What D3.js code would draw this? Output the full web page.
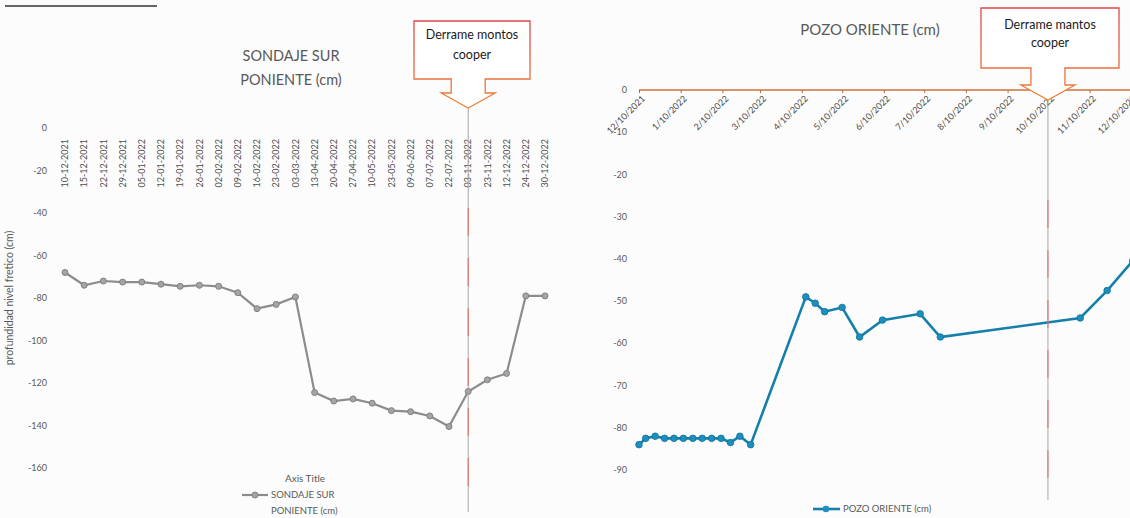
<!DOCTYPE html>
<meta charset="utf-8">
<title>Sondaje sur poniente / Pozo oriente</title>
<script src="https://d3js.org/d3.v7.min.js"></script>
<style>
body { margin: 0; background: #fcfcfc; }
text { font-family: Lato, "Open Sans", sans-serif; }
</style>
<div id="chart"></div>
<script>
// left chart data (categorical dates)
const leftDates = ["10-12-2021", "15-12-2021", "22-12-2021", "29-12-2021", "05-01-2022", "12-01-2022",
  "19-01-2022", "26-01-2022", "02-02-2022", "09-02-2022", "16-02-2022", "23-02-2022", "03-03-2022",
  "13-04-2022", "20-04-2022", "27-04-2022", "10-05-2022", "23-05-2022", "09-06-2022", "07-07-2022",
  "22-07-2022", "03-11-2022", "23-11-2022", "12-12-2022", "24-12-2022", "30-12-2022"];
const leftValues = [-68, -74, -72, -72.5, -72.5, -73.5, -74.5, -74, -74.5, -77.5, -85, -83, -79.5,
  -124.5, -128.5, -127.5, -129.5, -133, -133.5, -135.5, -140.5, -124, -118.5, -115.5, -79, -79];
const leftYTicks = [0, -20, -40, -60, -80, -100, -120, -140, -160];
const leftEvent = "03-11-2022";

// right chart data (date axis)
const rightDates = ["2021-12-10", "2021-12-15", "2021-12-22", "2021-12-29", "2022-01-05", "2022-01-12",
  "2022-01-19", "2022-01-26", "2022-02-02", "2022-02-09", "2022-02-16", "2022-02-23", "2022-03-03",
  "2022-04-13", "2022-04-20", "2022-04-27", "2022-05-10", "2022-05-23", "2022-06-09", "2022-07-07",
  "2022-07-22", "2022-11-03", "2022-11-23", "2022-12-12"];
const rightValues = [-84, -82.5, -82, -82.5, -82.5, -82.5, -82.5, -82.5, -82.5, -82.5, -83.5, -82, -84,
  -49, -50.5, -52.5, -51.5, -58.5, -54.5, -53, -58.5, -54, -47.5, -40.5];
const rightTickLabels = ["12/10/2021", "1/10/2022", "2/10/2022", "3/10/2022", "4/10/2022", "5/10/2022",
  "6/10/2022", "7/10/2022", "8/10/2022", "9/10/2022", "10/10/2022", "11/10/2022", "12/10/2022"];
const rightYTicks = [0, -10, -20, -30, -40, -50, -60, -70, -80, -90];
const rightEvent = "10/10/2022";

const W = 1130, H = 518;
const txt = "#595959";

const svg = d3.select("#chart").append("svg")
  .attr("width", W).attr("height", H);

// stray line at top-left of the scan
svg.append("line").attr("x1", 5).attr("x2", 157).attr("y1", 6).attr("y2", 6)
  .attr("stroke", "#333").attr("stroke-width", 1.5);

const grad = svg.append("defs").append("linearGradient")
  .attr("id", "calloutStroke").attr("x1", 0).attr("x2", 0).attr("y1", 0).attr("y2", 1);
grad.append("stop").attr("offset", "0%").attr("stop-color", "#e0464a");
grad.append("stop").attr("offset", "100%").attr("stop-color", "#ee8336");

// callout box with down arrow, tip at (tx, ty)
function callout(tx, ty, x0, x1, y0, y1, lines, ly) {
  const s = 17, wing = 27, stemY = ty - 15;
  const pts = [[x0, y0], [x1, y0], [x1, y1], [tx + s, y1], [tx + s, stemY], [tx + wing, stemY],
    [tx, ty], [tx - wing, stemY], [tx - s, stemY], [tx - s, y1], [x0, y1]];
  svg.append("path")
    .attr("d", d3.line()(pts) + "Z")
    .attr("fill", "#fff")
    .attr("stroke", "url(#calloutStroke)")
    .attr("stroke-width", 1.3);
  lines.forEach((l, i) => {
    svg.append("text")
      .attr("x", (x0 + x1) / 2).attr("y", ly[i])
      .attr("text-anchor", "middle")
      .attr("font-size", 12.5).attr("fill", "#1a1a1a")
      .text(l);
  });
}

function eventLine(x, y0, y1) {
  svg.append("line").attr("x1", x).attr("x2", x).attr("y1", y0).attr("y2", y1)
    .attr("stroke", "#a6a6a6").attr("stroke-width", 1);
  svg.append("line").attr("x1", x).attr("x2", x).attr("y1", y0 + 100).attr("y2", y1 - 10)
    .attr("stroke", "#e8544a").attr("stroke-width", 1).attr("opacity", 0.8)
    .attr("stroke-dasharray", "28,22");
}

// ---------------- left chart ----------------
const xL = d3.scalePoint().domain(leftDates).range([65, 545]);
const yL = d3.scaleLinear().domain([-160, 0]).range([468, 128]);

const gL = svg.append("g");
gL.selectAll(".ytick").data(leftYTicks).join("text")
  .attr("x", 47).attr("y", d => yL(d)).attr("dy", "0.35em")
  .attr("text-anchor", "end").attr("font-size", 9).attr("fill", txt)
  .text(d => d);

gL.selectAll(".xlab").data(leftDates).join("text")
  .attr("transform", d => `translate(${xL(d)},139) rotate(-90)`)
  .attr("dy", "0.35em").attr("text-anchor", "end")
  .attr("font-size", 9).attr("fill", "#4d4d4d")
  .text(d => d);

svg.append("text")
  .attr("transform", "translate(13,298) rotate(-90)")
  .attr("text-anchor", "middle").attr("font-size", 10.5).attr("fill", txt)
  .text("profundidad nivel fretico (cm)");

svg.append("text").attr("x", 291).attr("y", 61).attr("text-anchor", "middle")
  .attr("font-size", 14.5).attr("fill", txt).text("SONDAJE SUR");
svg.append("text").attr("x", 291).attr("y", 85).attr("text-anchor", "middle")
  .attr("font-size", 14.5).attr("fill", txt).text("PONIENTE (cm)");

eventLine(xL(leftEvent), 108, 512);

gL.append("path")
  .datum(leftDates.map((d, i) => [xL(d), yL(leftValues[i])]))
  .attr("d", d3.line())
  .attr("fill", "none").attr("stroke", "#8c8c8c").attr("stroke-width", 2.2);
gL.selectAll("circle").data(leftDates).join("circle")
  .attr("cx", d => xL(d)).attr("cy", (d, i) => yL(leftValues[i]))
  .attr("r", 3).attr("fill", "#a5a5a5").attr("stroke", "#808080").attr("stroke-width", 1);

callout(xL(leftEvent), 108, 414, 530, 21, 79, ["Derrame montos", "cooper"], [39, 59]);

// legend left
svg.append("text").attr("x", 305).attr("y", 482).attr("text-anchor", "middle")
  .attr("font-size", 10).attr("fill", txt).text("Axis Title");
svg.append("line").attr("x1", 242).attr("x2", 268).attr("y1", 495).attr("y2", 495)
  .attr("stroke", "#8c8c8c").attr("stroke-width", 2.2);
svg.append("circle").attr("cx", 255).attr("cy", 495).attr("r", 3)
  .attr("fill", "#a5a5a5").attr("stroke", "#808080");
svg.append("text").attr("x", 271).attr("y", 498).attr("font-size", 9.5).attr("fill", txt)
  .text("SONDAJE SUR");
svg.append("text").attr("x", 271).attr("y", 514).attr("font-size", 9.5).attr("fill", txt)
  .text("PONIENTE (cm)");

// ---------------- right chart ----------------
const parseTick = d3.timeParse("%m/%d/%Y");
const parseDay = d3.timeParse("%Y-%m-%d");
const xR = d3.scaleTime()
  .domain([parseTick("12/10/2021"), parseTick("12/10/2022")])
  .range([639, 1130]);
const yR = d3.scaleLinear().domain([-90, 0]).range([470, 90]);

const gR = svg.append("g");
gR.selectAll(".ytick").data(rightYTicks).join("text")
  .attr("x", 627).attr("y", d => yR(d)).attr("dy", "0.35em")
  .attr("text-anchor", "end").attr("font-size", 9).attr("fill", txt)
  .text(d => d);

svg.append("text").attr("x", 870).attr("y", 35).attr("text-anchor", "middle")
  .attr("font-size", 15).attr("fill", txt).text("POZO ORIENTE (cm)");

eventLine(xR(parseTick(rightEvent)), 100, 500);

// x axis at value 0
const axisR = d3.axisBottom(xR)
  .tickValues(rightTickLabels.map(parseTick))
  .tickFormat(d3.timeFormat("%-m/%-d/%Y"))
  .tickSizeInner(3).tickSizeOuter(0);
const ax = gR.append("g").attr("transform", `translate(0,${yR(0)})`).call(axisR);
ax.select(".domain").attr("stroke", "#d0703a").attr("stroke-width", 1.6)
  .attr("d", `M639,0H1140`);
ax.selectAll(".tick line").attr("stroke", "#b86a3a");
ax.selectAll(".tick text")
  .attr("font-size", 9).attr("fill", "#4d4d4d").attr("font-family", "Lato, sans-serif")
  .attr("text-anchor", "end")
  .attr("transform", "translate(4,7) rotate(-45)")
  .attr("dy", "0.35em").attr("y", 0).attr("x", 0);

gR.append("path")
  .datum(rightDates.map((d, i) => [xR(parseDay(d)), yR(rightValues[i])]))
  .attr("d", d3.line())
  .attr("fill", "none").attr("stroke", "#157fab").attr("stroke-width", 2.6);
gR.selectAll("circle").data(rightDates).join("circle")
  .attr("cx", d => xR(parseDay(d))).attr("cy", (d, i) => yR(rightValues[i]))
  .attr("r", 3.3).attr("fill", "#1b8fbf").attr("stroke", "#126f96").attr("stroke-width", 0.8);

callout(xR(parseTick(rightEvent)), 100, 981, 1119, 8, 68, ["Derrame mantos", "cooper"], [29, 47]);

// legend right
svg.append("line").attr("x1", 813).attr("x2", 840).attr("y1", 509).attr("y2", 509)
  .attr("stroke", "#157fab").attr("stroke-width", 2.6);
svg.append("circle").attr("cx", 826).attr("cy", 509).attr("r", 3.3).attr("fill", "#1b8fbf");
svg.append("text").attr("x", 843).attr("y", 512).attr("font-size", 9.5).attr("fill", txt)
  .text("POZO ORIENTE (cm)");
</script>
